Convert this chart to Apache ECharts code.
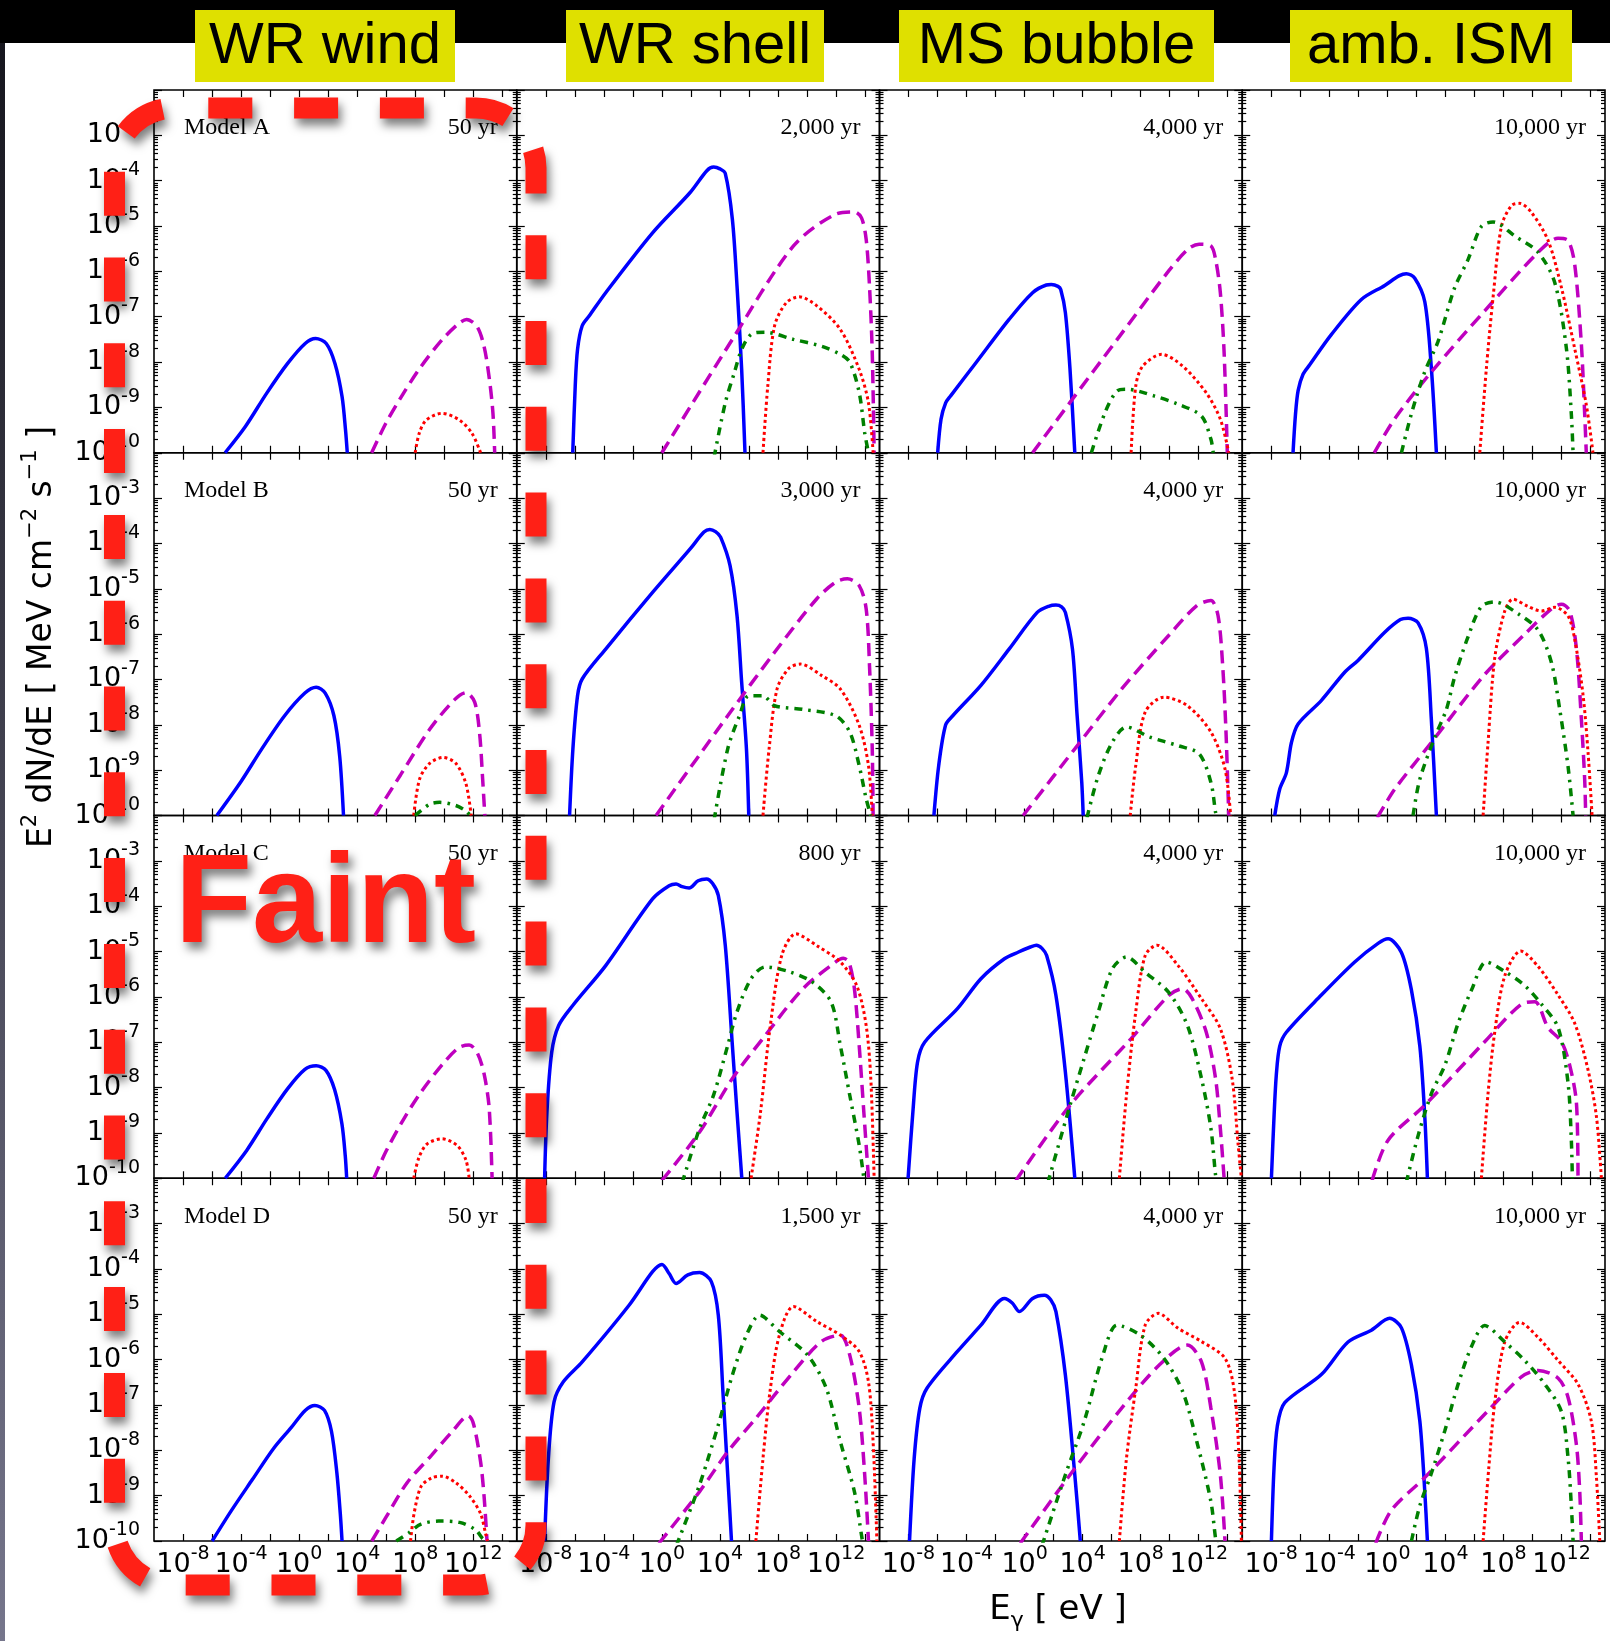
<!DOCTYPE html>
<html><head><meta charset="utf-8">
<script src="https://cdn.jsdelivr.net/npm/echarts@6/dist/echarts.min.js"></script>
<style>html,body{margin:0;padding:0;background:#fff}#c{width:1610px;height:1641px}</style>
</head><body><div id="c"></div><script>
// ---- data: [log10(E_gamma / eV), log10(E^2 dN/dE / MeV cm^-2 s^-1)] ----
const models = ['Model A','Model B','Model C','Model D'];
const regions = ['WR wind','WR shell','MS bubble','amb. ISM'];
const ages = [
  ['50 yr','2,000 yr','4,000 yr','10,000 yr'],
  ['50 yr','3,000 yr','4,000 yr','10,000 yr'],
  ['50 yr','800 yr','4,000 yr','10,000 yr'],
  ['50 yr','1,500 yr','4,000 yr','10,000 yr']
];
const xTickVals = [-8,-6,-4,-2,0,2,4,6,8,10,12,14];
const xLabelVals = [-8,-4,0,4,8,12];
const yMajorVals = [-10,-9,-8,-7,-6,-5,-4,-3,-2];
const yLabelVals = [-10,-9,-8,-7,-6,-5,-4,-3];

// Model A
const A_wind_sync = [[-5.1,-10],[-3.7,-9.42],[-2.24,-8.69],[-0.79,-8.03],[0.42,-7.59],[1.14,-7.48],[1.87,-7.59],[2.47,-8.03],[2.96,-8.76],[3.2,-9.5],[3.32,-10]];
const A_wind_ic = [[5.0,-10],[5.98,-9.35],[7.19,-8.69],[8.4,-8.1],[9.85,-7.51],[11.0,-7.15],[11.54,-7.06],[12.27,-7.22],[12.75,-7.66],[13.12,-8.39],[13.36,-9.13],[13.48,-10]];
const A_wind_pp = [[8.0,-10],[8.28,-9.57],[8.76,-9.28],[9.85,-9.13],[11.06,-9.28],[11.91,-9.57],[12.51,-10]];
const A_wind_brems = null;
const A_shell_sync = [[-6.14,-10],[-5.97,-8.53],[-5.81,-7.72],[-5.49,-7.2],[-5.0,-6.98],[-3.87,-6.47],[-0.64,-5.15],[1.95,-4.26],[3.1,-3.78],[3.57,-3.7],[4.0,-3.74],[4.37,-3.84],[4.86,-4.85],[5.18,-6.32],[5.5,-8.16],[5.73,-10]];
const A_shell_ic = [[0.0,-10],[4.86,-7.5],[9.07,-5.44],[11.98,-4.74],[13.27,-4.69],[13.76,-4.82],[14.08,-5.29],[14.31,-6.32],[14.5,-7.79],[14.63,-10]];
const A_shell_pp = [[6.97,-10],[7.3,-8.53],[7.77,-7.2],[8.58,-6.69],[9.46,-6.56],[10.68,-6.76],[12.3,-7.28],[13.6,-8.16],[14.24,-8.9],[14.56,-10]];
const A_shell_brems = [[3.6,-10.1],[4.37,-8.9],[5.0,-8.23],[5.5,-7.72],[6.15,-7.39],[7.1,-7.34],[9.07,-7.5],[11.0,-7.65],[12.3,-7.83],[12.95,-8.0],[13.6,-8.67],[13.98,-9.56],[14.24,-10]];
const A_bubble_sync = [[-5.99,-10],[-5.76,-9.26],[-5.44,-8.9],[-5.11,-8.75],[-3.34,-8.01],[-1.07,-7.06],[0.55,-6.47],[1.5,-6.3],[1.84,-6.29],[2.3,-6.33],[2.49,-6.4],[2.81,-6.91],[3.13,-8.16],[3.46,-10]];
const A_bubble_ic = [[0.55,-10],[3.13,-8.89],[6.5,-7.45],[9.93,-5.99],[11.3,-5.5],[12.03,-5.4],[12.84,-5.44],[13.16,-5.73],[13.49,-6.47],[13.75,-7.79],[13.97,-10]];
const A_bubble_pp = [[7.34,-10],[7.66,-8.53],[8.14,-8.09],[9.44,-7.83],[10.9,-8.09],[12.5,-8.67],[13.49,-9.26],[14.07,-10]];
const A_bubble_brems = [[4.6,-10],[5.56,-9.1],[6.37,-8.64],[7.02,-8.6],[8.96,-8.75],[10.58,-8.93],[12.19,-9.19],[12.84,-9.7],[13.0,-10]];
const A_ism_sync = [[-6.5,-10],[-6.33,-9.15],[-6.15,-8.63],[-5.81,-8.27],[-5.35,-8.06],[-3.85,-7.39],[-1.79,-6.62],[-0.18,-6.31],[0.8,-6.1],[1.31,-6.05],[1.89,-6.15],[2.58,-6.67],[3.03,-8.12],[3.38,-10]];
const A_ism_ic = [[-0.9,-10],[0.51,-9.25],[3.03,-8.22],[6.71,-6.87],[10.39,-5.58],[11.76,-5.27],[12.45,-5.32],[12.91,-5.84],[13.37,-7.6],[13.6,-9.15],[13.71,-10]];
const A_ism_pp = [[6.37,-10],[6.83,-8.12],[7.29,-6.56],[7.86,-5.01],[8.55,-4.55],[9.12,-4.5],[9.93,-4.7],[11.08,-5.32],[12.0,-6.36],[12.91,-7.7],[13.71,-8.94],[14.17,-10]];
const A_ism_brems = [[0.97,-10],[1.65,-9.15],[2.57,-8.22],[3.49,-7.55],[4.64,-6.36],[5.56,-5.74],[6.48,-5.01],[7.29,-4.91],[8.78,-5.22],[10.39,-5.58],[11.54,-6.25],[12.34,-7.7],[12.68,-9.15],[12.8,-10]];
// Model B
const B_wind_sync = [[-5.67,-10],[-4.0,-9.25],[-2.57,-8.53],[-1.0,-7.8],[0.4,-7.3],[1.18,-7.17],[1.8,-7.3],[2.4,-7.8],[2.8,-8.7],[3.06,-10]];
const B_wind_ic = [[5.22,-10],[7.0,-9.1],[9.0,-8.1],[10.7,-7.45],[11.5,-7.29],[12.1,-7.5],[12.44,-8.19],[12.65,-9.2],[12.8,-10]];
const B_wind_pp = [[7.9,-10],[8.3,-9.2],[9.0,-8.85],[9.91,-8.72],[10.8,-8.85],[11.5,-9.3],[11.86,-10]];
const B_wind_brems = [[8.0,-10],[9.0,-9.75],[9.7,-9.71],[10.8,-9.78],[11.5,-9.9],[11.8,-10]];
const B_shell_sync = [[-6.36,-10],[-6.13,-8.53],[-5.81,-7.36],[-5.49,-6.99],[-3.87,-6.33],[-0.64,-5.08],[1.95,-4.12],[2.9,-3.75],[3.31,-3.69],[3.7,-3.74],[4.05,-3.86],[4.7,-4.49],[5.18,-5.59],[5.5,-7.06],[5.83,-8.53],[5.99,-10]];
const B_shell_ic = [[-0.4,-10],[4.54,-7.8],[7.77,-6.4],[10.68,-5.22],[12.0,-4.85],[12.79,-4.78],[13.6,-4.93],[14.08,-5.44],[14.31,-6.69],[14.5,-8.53],[14.56,-10]];
const B_shell_pp = [[6.97,-10],[7.39,-8.53],[7.94,-7.21],[8.74,-6.76],[9.55,-6.66],[11.0,-6.91],[12.3,-7.21],[13.6,-8.01],[14.24,-8.9],[14.5,-10]];
const B_shell_brems = [[3.6,-10.1],[4.54,-8.53],[5.35,-7.8],[5.99,-7.36],[6.97,-7.36],[7.77,-7.58],[9.72,-7.66],[11.98,-7.8],[12.95,-8.16],[13.6,-8.9],[14.08,-9.63],[14.4,-10]];
const B_bubble_sync = [[-6.25,-10],[-5.92,-8.9],[-5.44,-8.0],[-4.95,-7.8],[-3.01,-7.13],[-1.07,-6.33],[0.87,-5.52],[1.7,-5.38],[2.16,-5.36],[2.55,-5.4],[2.81,-5.52],[3.3,-6.33],[3.62,-7.8],[3.94,-9.27],[4.04,-10]];
const B_bubble_ic = [[-0.1,-10],[3.46,-8.53],[6.69,-7.21],[9.93,-6.03],[11.87,-5.37],[12.84,-5.26],[13.33,-5.59],[13.65,-6.69],[13.88,-8.16],[14.07,-10]];
const B_bubble_pp = [[7.28,-10],[7.66,-8.9],[8.31,-7.72],[9.6,-7.39],[11.22,-7.58],[12.84,-8.16],[13.81,-8.97],[14.2,-10]];
const B_bubble_brems = [[4.3,-10.05],[5.08,-9.12],[6.05,-8.38],[7.02,-8.05],[8.63,-8.27],[10.58,-8.46],[12.03,-8.64],[12.84,-9.27],[13.16,-9.93],[13.25,-10.05]];
const B_ism_sync = [[-7.76,-10],[-7.42,-9.42],[-6.96,-9.06],[-6.61,-8.39],[-6.15,-7.98],[-4.54,-7.46],[-2.94,-6.84],[-2.02,-6.58],[-0.18,-5.96],[0.9,-5.68],[1.43,-5.65],[2.12,-5.75],[2.69,-6.32],[3.03,-7.87],[3.38,-10]];
const B_ism_ic = [[-0.7,-10.05],[0.51,-9.42],[3.03,-8.39],[6.71,-6.89],[9.47,-6.0],[11.31,-5.44],[12.0,-5.34],[12.57,-5.49],[13.03,-6.32],[13.37,-7.87],[13.6,-9.21],[13.67,-10]];
const B_ism_pp = [[6.6,-10],[6.94,-8.39],[7.4,-6.53],[8.09,-5.49],[8.66,-5.23],[9.7,-5.39],[10.62,-5.49],[11.54,-5.41],[12.45,-5.6],[12.91,-6.11],[13.49,-7.35],[13.83,-8.6],[14.11,-10]];
const B_ism_brems = [[1.77,-10],[2.23,-9.21],[3.26,-8.28],[4.07,-7.66],[4.64,-6.94],[5.56,-6.06],[6.48,-5.39],[7.4,-5.29],[9.01,-5.55],[10.39,-5.91],[11.31,-6.63],[11.88,-7.66],[12.45,-8.91],[12.8,-10]];
// Model C
const C_wind_sync = [[-5.09,-10],[-3.6,-9.38],[-2.2,-8.68],[-0.8,-8.03],[0.4,-7.6],[1.18,-7.52],[1.85,-7.62],[2.45,-8.05],[2.95,-8.8],[3.18,-9.5],[3.28,-10]];
const C_wind_ic = [[5.15,-10],[6.0,-9.4],[7.2,-8.7],[8.4,-8.1],[9.85,-7.5],[11.0,-7.12],[11.72,-7.06],[12.3,-7.25],[12.75,-7.7],[13.1,-8.45],[13.3,-10]];
const C_wind_pp = [[7.9,-10],[8.25,-9.55],[8.8,-9.25],[9.84,-9.13],[10.9,-9.28],[11.5,-9.6],[11.72,-10]];
const C_wind_brems = null;
const C_shell_sync = [[-8.08,-10],[-7.92,-8.54],[-7.59,-7.22],[-7.11,-6.63],[-6.14,-6.19],[-3.87,-5.31],[-0.64,-3.84],[0.5,-3.55],[0.98,-3.51],[1.4,-3.57],[1.88,-3.6],[2.5,-3.44],[3.08,-3.4],[3.5,-3.5],[3.89,-3.76],[4.37,-4.86],[4.86,-7.07],[5.18,-8.54],[5.51,-10]];
const C_shell_ic = [[0.0,-10.05],[2.6,-8.98],[4.86,-7.8],[7.13,-6.85],[9.72,-5.82],[11.98,-5.23],[12.5,-5.15],[12.89,-5.23],[13.27,-5.82],[13.6,-7.07],[13.92,-8.54],[14.24,-10]];
const C_shell_pp = [[6.15,-10],[6.8,-8.54],[7.45,-6.7],[8.26,-5.09],[9.23,-4.61],[10.68,-4.87],[12.3,-5.23],[13.43,-5.75],[14.08,-6.63],[14.4,-7.8],[14.63,-10]];
const C_shell_brems = [[1.4,-10.1],[2.6,-8.9],[3.57,-8.16],[4.54,-7.07],[5.18,-6.33],[6.15,-5.6],[7.13,-5.34],[8.74,-5.44],[10.36,-5.67],[11.66,-6.11],[12.3,-7.07],[12.95,-8.17],[13.6,-9.27],[13.92,-10]];
const C_bubble_sync = [[-8.03,-10],[-7.7,-8.54],[-7.38,-7.44],[-6.89,-7.0],[-4.63,-6.26],[-3.01,-5.6],[-1.39,-5.16],[-0.42,-5.01],[0.4,-4.9],[0.81,-4.86],[1.2,-4.93],[1.52,-5.09],[2.16,-5.97],[2.81,-7.66],[3.46,-10]];
const C_bubble_ic = [[-0.6,-10.05],[3.13,-8.39],[7.34,-6.92],[9.93,-5.97],[10.9,-5.82],[11.55,-6.04],[12.52,-6.78],[13.16,-7.8],[13.49,-8.9],[13.75,-10]];
const C_bubble_pp = [[6.53,-10],[7.02,-8.17],[7.66,-6.33],[8.31,-5.09],[9.12,-4.86],[10.58,-5.31],[12.19,-6.04],[13.49,-6.7],[14.3,-7.8],[14.72,-9.27],[14.94,-10]];
const C_bubble_brems = [[1.6,-10.1],[3.13,-8.39],[4.1,-7.36],[5.08,-6.33],[6.05,-5.38],[7.02,-5.12],[8.31,-5.46],[9.93,-5.9],[11.22,-6.63],[12.19,-7.8],[12.84,-8.9],[13.16,-9.93],[13.25,-10.05]];
const C_ism_sync = [[-7.99,-10],[-7.81,-8.64],[-7.65,-7.71],[-7.42,-7.09],[-6.96,-6.78],[-4.55,-5.96],[-2.25,-5.23],[-0.64,-4.82],[0.05,-4.72],[0.97,-5.02],[1.66,-5.85],[2.24,-7.09],[2.58,-8.64],[2.76,-10]];
const C_ism_ic = [[-1.05,-10.05],[0.05,-9.16],[2.58,-8.39],[6.71,-6.99],[9.24,-6.16],[10.16,-6.11],[11.08,-6.68],[12.0,-6.99],[12.57,-7.51],[13.03,-8.33],[13.14,-10]];
const C_ism_pp = [[6.48,-10],[6.94,-8.13],[7.4,-6.78],[8.09,-5.54],[9.19,-4.99],[10.39,-5.33],[11.77,-5.96],[12.91,-6.58],[13.83,-7.61],[14.41,-8.64],[14.75,-10]];
const C_ism_brems = [[1.3,-10.1],[2.12,-9.06],[3.04,-8.13],[3.96,-7.51],[4.88,-6.58],[5.8,-5.85],[6.82,-5.23],[8.09,-5.44],[9.47,-5.75],[10.62,-6.16],[11.77,-6.68],[12.46,-7.92],[12.68,-9.16],[12.75,-10]];
// Model D
const D_wind_sync = [[-5.99,-10],[-4.67,-9.33],[-3.21,-8.64],[-1.76,-7.96],[-0.55,-7.5],[0.42,-7.12],[1.09,-7.01],[1.75,-7.12],[2.23,-7.58],[2.6,-8.49],[2.84,-9.4],[2.96,-10]];
const D_wind_ic = [[5.01,-10],[5.98,-9.48],[7.43,-8.72],[9.12,-8.11],[10.57,-7.58],[11.66,-7.24],[12.03,-7.43],[12.51,-8.26],[12.75,-9.02],[12.95,-10]];
const D_wind_pp = [[7.68,-10],[7.92,-9.4],[8.4,-8.8],[9.12,-8.61],[9.85,-8.57],[10.82,-8.72],[11.78,-9.02],[12.51,-9.4],[12.87,-9.86],[12.99,-10]];
const D_wind_brems = [[6.7,-10],[7.56,-9.82],[8.4,-9.63],[9.61,-9.56],[11.06,-9.59],[12.15,-9.75],[12.63,-9.94],[12.87,-10]];
const D_shell_sync = [[-8.08,-10],[-7.82,-8.18],[-7.43,-6.93],[-6.79,-6.49],[-5.49,-6.05],[-2.26,-4.8],[-0.64,-4.06],[0.01,-3.9],[0.5,-4.1],[0.98,-4.32],[1.79,-4.13],[2.6,-4.08],[3.41,-4.28],[3.89,-5.02],[4.21,-6.71],[4.54,-8.54],[4.8,-10]];
const D_shell_ic = [[-0.2,-10.05],[2.6,-8.91],[4.54,-8.03],[6.49,-7.29],[9.07,-6.27],[11.0,-5.6],[12.3,-5.46],[12.95,-5.9],[13.6,-7.07],[13.98,-8.54],[14.24,-10]];
const D_shell_pp = [[6.48,-10],[6.97,-8.18],[7.45,-6.71],[8.1,-5.46],[9.07,-4.83],[10.68,-5.16],[12.3,-5.46],[13.6,-5.82],[14.24,-6.49],[14.56,-7.81],[14.82,-10]];
const D_shell_brems = [[1.0,-10.1],[2.6,-8.76],[3.89,-7.44],[4.86,-6.34],[5.83,-5.46],[6.74,-5.02],[8.1,-5.38],[10.04,-5.9],[11.33,-6.63],[12.3,-7.81],[13.27,-8.91],[13.76,-9.87],[13.85,-10.05]];
const D_bubble_sync = [[-7.93,-10],[-7.61,-8.18],[-7.22,-7.07],[-6.73,-6.63],[-4.63,-5.82],[-3.01,-5.24],[-1.39,-4.65],[-0.85,-4.75],[-0.36,-4.94],[0.55,-4.65],[1.36,-4.58],[1.8,-4.68],[2.16,-4.94],[2.81,-6.34],[3.46,-8.54],[3.84,-10]];
const D_bubble_ic = [[-0.3,-10.05],[3.46,-8.4],[6.69,-7.07],[9.28,-6.12],[11.22,-5.68],[12.19,-6.05],[12.84,-7.07],[13.49,-8.54],[13.81,-10]];
const D_bubble_pp = [[6.53,-10],[7.02,-8.18],[7.66,-6.63],[8.31,-5.24],[9.21,-4.98],[10.58,-5.31],[12.19,-5.6],[13.81,-5.97],[14.46,-6.71],[14.78,-8.18],[14.94,-10]];
const D_bubble_brems = [[1.2,-10.1],[2.81,-8.54],[4.1,-7.37],[5.4,-5.9],[6.37,-5.24],[7.98,-5.46],[9.6,-5.97],[10.9,-6.71],[11.87,-7.81],[12.84,-9.13],[13.16,-9.94],[13.25,-10.05]];
const D_ism_sync = [[-7.99,-10],[-7.81,-8.39],[-7.58,-7.46],[-7.07,-6.95],[-4.55,-6.33],[-2.71,-5.61],[-1.1,-5.35],[0.16,-5.09],[0.97,-5.3],[1.66,-6.12],[2.24,-7.36],[2.58,-8.91],[2.76,-10]];
const D_ism_ic = [[-0.8,-10.05],[0.28,-9.32],[2.58,-8.6],[7.17,-7.05],[9.24,-6.38],[10.39,-6.24],[11.77,-6.41],[12.46,-6.84],[13.03,-7.88],[13.26,-8.91],[13.37,-10]];
const D_ism_pp = [[6.6,-10],[6.99,-8.39],[7.4,-6.95],[8.09,-5.61],[9.12,-5.18],[10.39,-5.51],[11.77,-6.02],[13.14,-6.54],[14.06,-7.36],[14.41,-8.6],[14.64,-10]];
const D_ism_brems = [[1.66,-10],[2.24,-9.22],[3.04,-8.5],[3.96,-7.57],[4.88,-6.54],[5.8,-5.71],[6.71,-5.25],[8.09,-5.61],[9.47,-6.02],[10.85,-6.54],[12.0,-7.15],[12.46,-8.19],[12.68,-9.22],[12.8,-10]];

const panels = [
  [[A_wind_sync,A_wind_ic,A_wind_pp,A_wind_brems],[A_shell_sync,A_shell_ic,A_shell_pp,A_shell_brems],[A_bubble_sync,A_bubble_ic,A_bubble_pp,A_bubble_brems],[A_ism_sync,A_ism_ic,A_ism_pp,A_ism_brems]],
  [[B_wind_sync,B_wind_ic,B_wind_pp,B_wind_brems],[B_shell_sync,B_shell_ic,B_shell_pp,B_shell_brems],[B_bubble_sync,B_bubble_ic,B_bubble_pp,B_bubble_brems],[B_ism_sync,B_ism_ic,B_ism_pp,B_ism_brems]],
  [[C_wind_sync,C_wind_ic,C_wind_pp,C_wind_brems],[C_shell_sync,C_shell_ic,C_shell_pp,C_shell_brems],[C_bubble_sync,C_bubble_ic,C_bubble_pp,C_bubble_brems],[C_ism_sync,C_ism_ic,C_ism_pp,C_ism_brems]],
  [[D_wind_sync,D_wind_ic,D_wind_pp,D_wind_brems],[D_shell_sync,D_shell_ic,D_shell_pp,D_shell_brems],[D_bubble_sync,D_bubble_ic,D_bubble_pp,D_bubble_brems],[D_ism_sync,D_ism_ic,D_ism_pp,D_ism_brems]]
];

// ---- styles / layout ----
const curveStyles = [
  {color:'#0000ff', width:3.5, type:'solid'},
  {color:'#bf00bf', width:3.5, type:[13,7]},
  {color:'#ff0000', width:3, type:[3,3]},
  {color:'#008000', width:3.5, type:[8,6,2.5,6]}
];
const W = 362.75, L0 = 154, T0 = 90;
const yMinorVals = [];
for (let n = -10; n < -2; n++) for (let k = 2; k <= 9; k++) yMinorVals.push(n + Math.log10(k));

const tickRich = {
  b: {fontFamily:'DejaVu Sans', fontSize:27, lineHeight:40, color:'#000'},
  s: {fontFamily:'DejaVu Sans', fontSize:19, lineHeight:18, verticalAlign:'top', color:'#000'}
};
const fmt = v => '{b|10}{s|' + Math.round(v) + '}';
const tickLine = {color:'#000', width:1.2};

const grid = [], xAxis = [], yAxis = [], series = [];
function mkX(gi, pos, labels) {
  return {type:'value', gridIndex:gi, position:pos, min:-10, max:15,
    axisLine:{show:false, onZero:false}, splitLine:{show:false},
    axisTick:{show:true, inside:true, length:7, customValues:xTickVals, lineStyle:tickLine},
    axisLabel:{show:labels, customValues:xLabelVals, formatter:fmt, rich:tickRich, margin:4}};
}
function mkY(gi, pos, major, labels) {
  return {type:'value', gridIndex:gi, position:pos, min:-10, max:-2,
    axisLine:{show:false, onZero:false}, splitLine:{show:false},
    axisTick:{show:true, inside:true, length: major ? 8 : 4, customValues: major ? yMajorVals : yMinorVals, lineStyle:tickLine},
    axisLabel:{show:labels, customValues:yLabelVals, formatter:fmt, rich:tickRich, margin:14}};
}
const graphicEls = [];
for (let r = 0; r < 4; r++) {
  for (let c = 0; c < 4; c++) {
    const gi = r * 4 + c;
    grid.push({left:L0 + c * W, top:T0 + r * W, width:W, height:W, show:true,
      borderColor:'#000', borderWidth:1.6, backgroundColor:'transparent', containLabel:false, outerBoundsMode:'none'});
    xAxis.push(mkX(gi, 'bottom', r === 3));
    xAxis.push(mkX(gi, 'top', false));
    yAxis.push(mkY(gi, 'left', true, c === 0));
    yAxis.push(mkY(gi, 'left', false, false));
    yAxis.push(mkY(gi, 'right', true, false));
    yAxis.push(mkY(gi, 'right', false, false));
    panels[r][c].forEach((d, k) => {
      if (!d) return;
      series.push({type:'line', xAxisIndex:gi * 2, yAxisIndex:gi * 4, data:d,
        showSymbol:false, symbol:'none', smooth:0.3, silent:true,
        clip:true, lineStyle:curveStyles[k], z:3});
    });
    // panel annotations
    if (c === 0) graphicEls.push({type:'text', z:60, style:{text:models[r], x:L0 + 30, y:T0 + r * W + 38,
      font:'24px "Liberation Serif"', fill:'#000', textAlign:'left', textVerticalAlign:'middle'}});
    graphicEls.push({type:'text', z:60, style:{text:ages[r][c], x:L0 + (c + 1) * W - 19, y:T0 + r * W + 38,
      font:'24px "Liberation Serif"', fill:'#000', textAlign:'right', textVerticalAlign:'middle'}});
  }
}

// ---- decorations ----
graphicEls.push({type:'rect', z:50, shape:{x:0, y:0, width:1610, height:43}, style:{fill:'#000'}});
graphicEls.push({type:'rect', z:50, shape:{x:0, y:43, width:5, height:1598},
  style:{fill:{type:'linear', x:0, y:0, x2:0, y2:1, colorStops:[{offset:0, color:'#16161e'},{offset:1, color:'#76768c'}]}}});
const boxes = [[195,455],[566,824],[899,1214],[1290,1572]];
boxes.forEach((b, i) => {
  graphicEls.push({type:'rect', z:51, shape:{x:b[0], y:10, width:b[1] - b[0], height:72}, style:{fill:'#dfe000'}});
  graphicEls.push({type:'text', z:52, style:{text:regions[i], x:(b[0] + b[1]) / 2, y:47,
    font:'58px "Liberation Sans"', fill:'#000', textAlign:'center', textVerticalAlign:'middle'}});
});
// axis titles
graphicEls.push({type:'text', z:60, x:1058, y:1610, style:{
  text:'{a|E}{g|γ}{a| [ eV ]}', x:0, y:0, textAlign:'center', textVerticalAlign:'middle',
  rich:{a:{fontFamily:'DejaVu Sans', fontSize:34, lineHeight:44, fill:'#000'},
        g:{fontFamily:'DejaVu Sans', fontSize:22, lineHeight:20, verticalAlign:'bottom', fill:'#000'}}}});
graphicEls.push({type:'text', z:60, x:42, y:637, rotation:Math.PI / 2, style:{
  text:'{a|E}{s|2}{a| dN/dE [ MeV cm}{s|−2}{a| s}{s|−1}{a| ]}', x:0, y:0, textAlign:'center', textVerticalAlign:'middle',
  rich:{a:{fontFamily:'DejaVu Sans', fontSize:33, lineHeight:44, fill:'#000'},
        s:{fontFamily:'DejaVu Sans', fontSize:21, lineHeight:20, verticalAlign:'top', fill:'#000'}}}});
// red dashed rounded frame round the first column
graphicEls.push({type:'rect', z:100, shape:{x:114.5, y:108, width:421.5, height:1477, r:60},
  style:{fill:'none', stroke:'#ff2016', lineWidth:21, lineDash:[44,41.8], lineDashOffset:52,
    shadowBlur:10, shadowColor:'rgba(0,0,0,0.5)', shadowOffsetX:3, shadowOffsetY:7}});
graphicEls.push({type:'text', z:101, style:{text:'Faint', x:175, y:907, font:'bold 126px "Liberation Sans"',
  fill:'#ff2016', textAlign:'left', textVerticalAlign:'middle',
  shadowBlur:10, shadowColor:'rgba(0,0,0,0.5)', shadowOffsetX:4, shadowOffsetY:7,
  textShadowBlur:10, textShadowColor:'rgba(0,0,0,0.5)', textShadowOffsetX:4, textShadowOffsetY:7}});

const chart = echarts.init(document.getElementById('c'), null, {renderer:'canvas', width:1610, height:1641});
chart.setOption({
  backgroundColor:'#fff', animation:false,
  grid, xAxis, yAxis, series,
  graphic:{elements:graphicEls}
});
</script></body></html>
